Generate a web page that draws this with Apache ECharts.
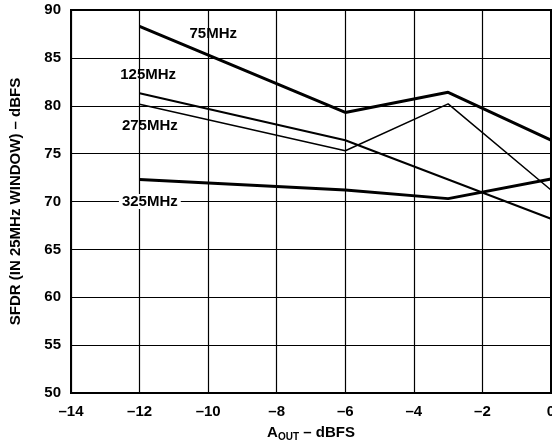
<!DOCTYPE html>
<html><head><meta charset="utf-8">
<script src="https://cdn.jsdelivr.net/npm/echarts@6/dist/echarts.min.js"></script>
<style>html,body{margin:0;padding:0;background:#fff}#c{width:552px;height:441px}</style>
</head><body><div id="c"></div>
<script>
const xValues = [-12, -6, -3, 0];
const s75 = [88.3, 79.3, 81.4, 76.4];
const s125 = [81.3, 76.4, 72.3, 68.2];
const s275 = [80.15, 75.3, 80.2, 71.2];
const s325 = [72.3, 71.2, 70.3, 72.35];
const seriesNames = ['75MHz', '125MHz', '275MHz', '325MHz'];
const labelPos = [[-9.85, 87.5], [-11.75, 83.2], [-11.7, 77.9], [-11.7, 70.0]];
const xTicks = {min: -14, max: 0, step: 2};
const yTicks = {min: 50, max: 90, step: 5};

const font = '"Liberation Sans", Arial, Helvetica, sans-serif';
const fs = 15;
const widths = [3, 2, 1.5, 3];
const all = [s75, s125, s275, s325];
const chart = echarts.init(document.getElementById('c'));
chart.setOption({
  animation: false,
  grid: {left: 71, right: 1, top: 10, bottom: 48, outerBoundsMode: 'none', containLabel: false,
    show: true, borderColor: '#000', borderWidth: 2, backgroundColor: 'transparent'},
  xAxis: {
    type: 'value', min: xTicks.min, max: xTicks.max, interval: xTicks.step,
    axisLine: {show: true, lineStyle: {color: '#000', width: 2}},
    axisTick: {show: false},
    splitLine: {show: true, lineStyle: {color: '#000', width: 1.2}},
    axisLabel: {color: '#000', fontFamily: font, fontWeight: 'bold', fontSize: fs, margin: 11,
      formatter: v => v < 0 ? '\u2013' + Math.abs(v) : String(v)},
    name: '{a|A}{sub|OUT}{a| \u2013 dBFS}', nameLocation: 'middle', nameGap: 30,
    nameTextStyle: {rich: {
      a: {fontFamily: font, fontWeight: 'bold', fontSize: fs, color: '#000'},
      sub: {fontFamily: font, fontWeight: 'bold', fontSize: 10, color: '#000', padding: [9, 0, 0, 0]}
    }}
  },
  yAxis: {
    type: 'value', min: yTicks.min, max: yTicks.max, interval: yTicks.step,
    axisLine: {show: true, lineStyle: {color: '#000', width: 2}},
    axisTick: {show: false},
    splitLine: {show: true, lineStyle: {color: '#000', width: 1.2}},
    axisLabel: {color: '#000', fontFamily: font, fontWeight: 'bold', fontSize: fs, margin: 10},
    name: 'SFDR (IN 25MHz WINDOW) \u2013 dBFS', nameLocation: 'middle', nameGap: 48,
    nameTextStyle: {fontFamily: font, fontWeight: 'bold', fontSize: 15, color: '#000'}
  },
  series: all.map((d, i) => ({
    type: 'line', name: seriesNames[i],
    data: xValues.map((x, j) => [x, d[j]]),
    symbol: 'none', lineStyle: {color: '#000', width: widths[i]},
    markPoint: {
      symbol: 'circle', symbolSize: 0,
      data: [{coord: labelPos[i], value: seriesNames[i]}],
      label: {show: true, position: 'inside', formatter: seriesNames[i], color: '#000',
        fontFamily: font, fontWeight: 'bold', fontSize: fs,
        backgroundColor: i === 3 ? '#fff' : 'transparent', padding: i === 3 ? [0, 3] : 0}
    }
  }))
});
</script></body></html>
